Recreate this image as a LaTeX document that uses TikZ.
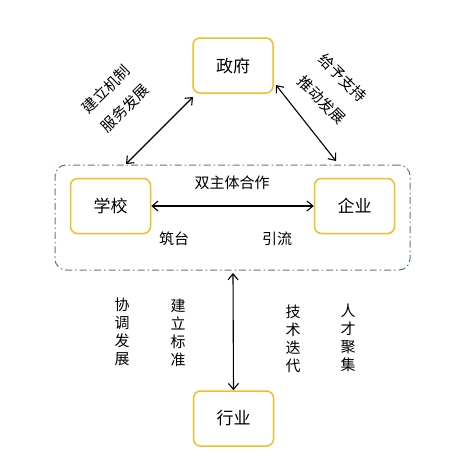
\documentclass[tikz,border=0pt]{standalone}
\usepackage{fontspec}
\setmainfont{Noto Sans CJK SC}
\usetikzlibrary{arrows.meta}
\definecolor{boxyellow}{HTML}{F0BE28}
\definecolor{dashblue}{HTML}{55789A}
\tikzset{
  actor/.style={draw=boxyellow, line width=1.5pt, rounded corners=7pt, fill=white, minimum width=80pt, minimum height=55pt, font=\fontsize{17}{20}\selectfont},
  link/.style={{Straight Barb[length=6pt,width=10pt]}-{Straight Barb[length=6pt,width=10pt]}, line width=1.1pt, black},
  lbl/.style={font=\fontsize{15}{17}\selectfont, inner sep=0pt},
  vlbl/.style={font=\fontsize{15}{18}\selectfont, inner sep=0pt, align=center},
  group/.style={draw=dashblue, line width=1pt, rounded corners=11pt, dash pattern=on 7pt off 3pt on 1.5pt off 3pt}
}
\begin{document}
\begin{tikzpicture}[x=1pt,y=-1pt]
\useasboundingbox (0,0) rectangle (467,463);
\node[group, minimum width=355pt, minimum height=105pt] (grp) at (232.5,217.5) {};
\node[actor] (gov) at (233,65.5) {政府};
\node[actor] (sch) at (110.5,206) {学校};
\node[actor] (ent) at (354.5,206) {企业};
\node[actor] (ind) at (233.5,418.5) {行业};
\coordinate (gl) at (126,164);
\coordinate (gr) at (336,161);
\coordinate (gb) at (233,273);
\coordinate (glt) at (193,97);
\coordinate (grt) at (276,85);
\draw[link] (glt) -- (gl);
\draw[link] (grt) -- (gr);
\draw[link] (sch) -- (ent);
\draw[link] (gb) -- (ind.north);
\node[lbl, rotate=45] (l1a) at (106,89) {建立机制};
\node[lbl, rotate=45] (l1b) at (125,108) {服务发展};
\node[lbl, rotate=-45] (l2a) at (343,78) {给予支持};
\node[lbl, rotate=-45] (l2b) at (322,100) {推动发展};
\node[lbl] (coop) at (232,183) {双主体合作};
\node[lbl] (zt) at (174,239) {筑台};
\node[lbl] (yl) at (277,239) {引流};
\node[vlbl] (v1) at (122,332) {协\\调\\发\\展};
\node[vlbl] (v2) at (178,333) {建\\立\\标\\准};
\node[vlbl] (v3) at (293,339) {技\\术\\迭\\代};
\node[vlbl] (v4) at (348,338) {人\\才\\聚\\集};
\end{tikzpicture}
\end{document}
